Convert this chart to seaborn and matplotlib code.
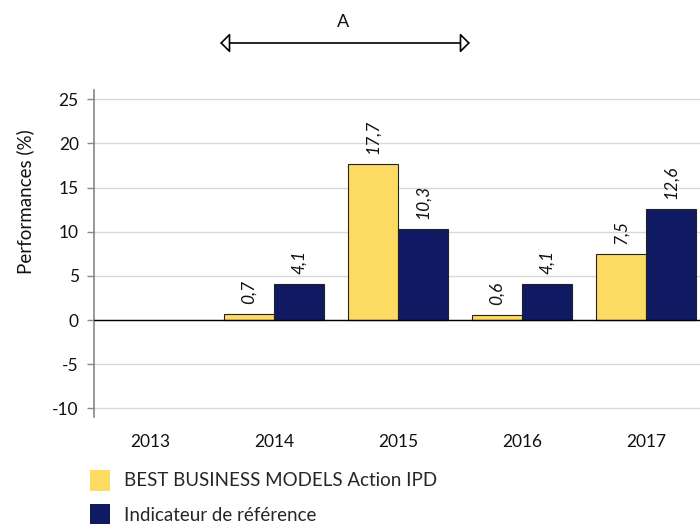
import numpy as np
import pandas as pd
import matplotlib
matplotlib.use("Agg")
import matplotlib.pyplot as plt
import seaborn as sns
from matplotlib.patches import Patch

years = ["2013", "2014", "2015", "2016", "2017"]
fund_name = "BEST BUSINESS MODELS Action IPD"
ref_name = "Indicateur de référence"
fund_values = [np.nan, 0.7, 17.7, 0.6, 7.5]
ref_values = [np.nan, 4.1, 10.3, 4.1, 12.6]
y_ticks = [-10, -5, 0, 5, 10, 15, 20, 25]
colors = {fund_name: "#FDDA62", ref_name: "#0F1A62"}

df = pd.DataFrame({
    "year": years * 2,
    "serie": [fund_name] * len(years) + [ref_name] * len(years),
    "value": fund_values + ref_values,
})

sns.set_theme(style="white")
plt.rcParams["font.family"] = ["Lato", "DejaVu Sans"]

W, H = 700, 524
fig = plt.figure(figsize=(W / 100, H / 100), dpi=100)
left, right, top, bottom = 94, 708, 90, 417
ax = fig.add_axes([left / W, (H - bottom) / H, (right - left) / W, (bottom - top) / H])

sns.barplot(data=df, x="year", y="value", hue="serie", order=years,
            hue_order=[fund_name, ref_name], palette=colors, errorbar=None,
            saturation=1, width=0.8, edgecolor="#222222", linewidth=0.8,
            ax=ax, legend=False, zorder=3)

ax.set_xlim(-0.4516, 4.5)
ax.set_ylim(-10.98, 26.05)
ax.set_yticks(y_ticks)
ax.set_yticklabels([str(t) for t in y_ticks], fontsize=12.5, color="#111111")
ax.tick_params(axis="y", left=True, length=5, width=1, color="#888888", pad=6)
ax.tick_params(axis="x", bottom=False, length=0, pad=12, labelsize=12.5, labelcolor="#111111")
ax.grid(axis="y", color="#d9d9d9", linewidth=1, zorder=0)
ax.axhline(0, color="black", linewidth=1, zorder=4)
for s in ["top", "right", "bottom"]:
    ax.spines[s].set_visible(False)
ax.spines["left"].set_color("#888888")
ax.spines["left"].set_linewidth(1.2)
ax.set_xlabel("")
ax.set_ylabel("Performances (%)", fontsize=13.5, color="#111111")
ax.yaxis.set_label_coords(-0.098, 0.66)

for cont in ax.containers:
    labels = []
    for v in cont.datavalues:
        labels.append("" if np.isnan(v) else f"{v:.1f}".replace(".", ","))
    ax.bar_label(cont, labels=labels, rotation=90, padding=7, fontsize=12.5,
                 fontstyle="italic", color="#111111")

# Top annotation arrow
ax.annotate("", xy=(470 / W, 1 - 43 / H), xytext=(220 / W, 1 - 43 / H),
            xycoords="figure fraction", textcoords="figure fraction",
            arrowprops=dict(arrowstyle="<|-|>,head_length=0.3,head_width=0.3",
                            mutation_scale=20, fc="white", ec="black", lw=1.2,
                            shrinkA=0, shrinkB=0))
fig.text(343 / W, 1 - 22 / H, "A", ha="center", va="center", fontsize=13, color="#111111")

handles = [Patch(facecolor=colors[fund_name], edgecolor="none"),
           Patch(facecolor=colors[ref_name], edgecolor="none")]
fig.legend(handles, [fund_name, ref_name], loc="upper left",
           bbox_to_anchor=(84 / W, 1 - 464 / H), frameon=False, fontsize=13.5,
           handlelength=1.1, handleheight=1.35, handletextpad=0.75,
           labelspacing=0.7, borderaxespad=0, borderpad=0.3)

fig.savefig("out.png", dpi=100)
